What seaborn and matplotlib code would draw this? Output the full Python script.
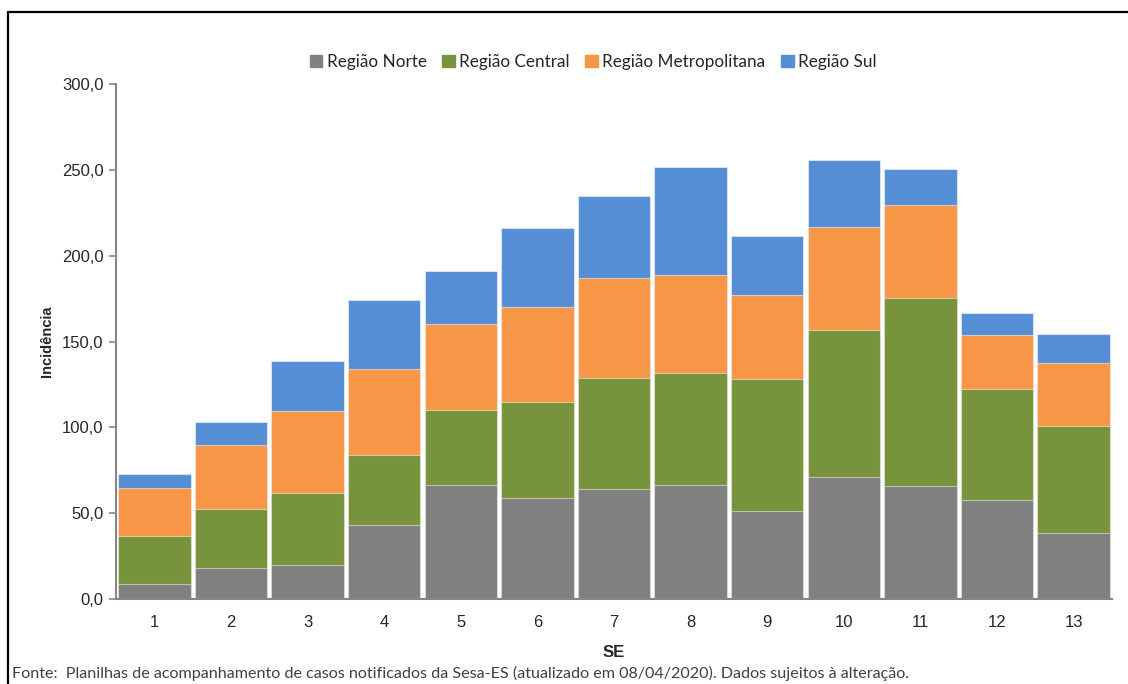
import numpy as np
import pandas as pd
import seaborn as sns
import matplotlib.pyplot as plt
from matplotlib.ticker import FuncFormatter
from matplotlib.lines import Line2D

se = [str(i) for i in range(1, 14)]
norte = [8.7, 18.0, 19.8, 43.1, 66.4, 58.8, 64.1, 66.4, 51.3, 71.1, 65.8, 57.7, 38.4]
central = [28.0, 34.4, 41.9, 40.8, 43.7, 56.0, 64.6, 65.2, 76.9, 85.6, 109.5, 64.6, 62.4]
metro = [28.0, 37.3, 47.8, 50.1, 50.1, 55.3, 58.3, 57.1, 48.9, 60.0, 54.2, 31.5, 36.7]
sul = [8.1, 13.4, 29.1, 40.2, 30.8, 46.0, 47.8, 62.9, 34.4, 39.0, 21.0, 12.8, 16.9]

labels = ["Região Norte", "Região Central", "Região Metropolitana", "Região Sul"]
colors = ["#808080", "#77933C", "#F79646", "#558ED5"]

df = pd.DataFrame({"SE": se, "norte": norte, "central": central,
                   "metro": metro, "sul": sul})
df["c1"] = df["norte"]
df["c2"] = df["c1"] + df["central"]
df["c3"] = df["c2"] + df["metro"]
df["c4"] = df["c3"] + df["sul"]

sns.set_style("white")
plt.rcParams["font.family"] = ["Liberation Sans", "DejaVu Sans"]

fig = plt.figure(figsize=(11.28, 6.84), dpi=100)
ax = fig.add_axes([116 / 1128, 1 - 599 / 684, (1112 - 116) / 1128, (599 - 84) / 684])

# draw cumulative totals from the top segment down
for col, color in zip(["c4", "c3", "c2", "c1"], colors[::-1]):
    sns.barplot(data=df, x="SE", y=col, color=color, width=0.945,
                edgecolor=(1, 1, 1, 0.5), linewidth=0.8, saturation=1, ax=ax)

ax.set_ylim(0, 300)
ax.set_xlim(-0.5, 12.5)
ax.set_yticks(np.arange(0, 301, 50))
ax.yaxis.set_major_formatter(FuncFormatter(lambda v, p: f"{v:.1f}".replace(".", ",")))
ax.tick_params(axis="y", which="both", left=True, length=5, width=1.2,
               color="#868686", labelsize=12, pad=4, direction="out")
ax.tick_params(axis="x", bottom=False, labelsize=12, pad=8)
for s in ["top", "right"]:
    ax.spines[s].set_visible(False)
for s in ["left", "bottom"]:
    ax.spines[s].set_color("#868686")
    ax.spines[s].set_linewidth(1.5)

ax.set_xlabel("SE", fontweight="bold", fontsize=12, labelpad=11)
ax.set_ylabel("Incidência", fontweight="bold", fontsize=10.5, labelpad=6)

handles = [plt.Rectangle((0, 0), 1, 1, color=c) for c in colors]
fig.legend(handles, labels, loc="center", bbox_to_anchor=(593 / 1128, 1 - 62 / 684),
           ncol=4, frameon=False, handlelength=0.75, handleheight=0.75,
           handletextpad=0.25, columnspacing=0.9,
           prop={"family": ["Lato", "DejaVu Sans"], "size": 12.3})

fig.text(12 / 1128, 1 - 673 / 684,
         "Fonte:  Planilhas de acompanhamento de casos notificados da Sesa-ES "
         "(atualizado em 08/04/2020). Dados sujeitos à alteração.",
         fontsize=11.6, color="#404040", family=["Lato", "DejaVu Sans"], va="center")

# outer frame (left and top edges)
fig.add_artist(Line2D([8 / 1128, 8 / 1128], [0, 1 - 12 / 684], color="black", lw=1.6,
                      transform=fig.transFigure))
fig.add_artist(Line2D([8 / 1128, 1], [1 - 12 / 684, 1 - 12 / 684], color="black", lw=1.6,
                      transform=fig.transFigure))

fig.savefig("out.png", dpi=100)
